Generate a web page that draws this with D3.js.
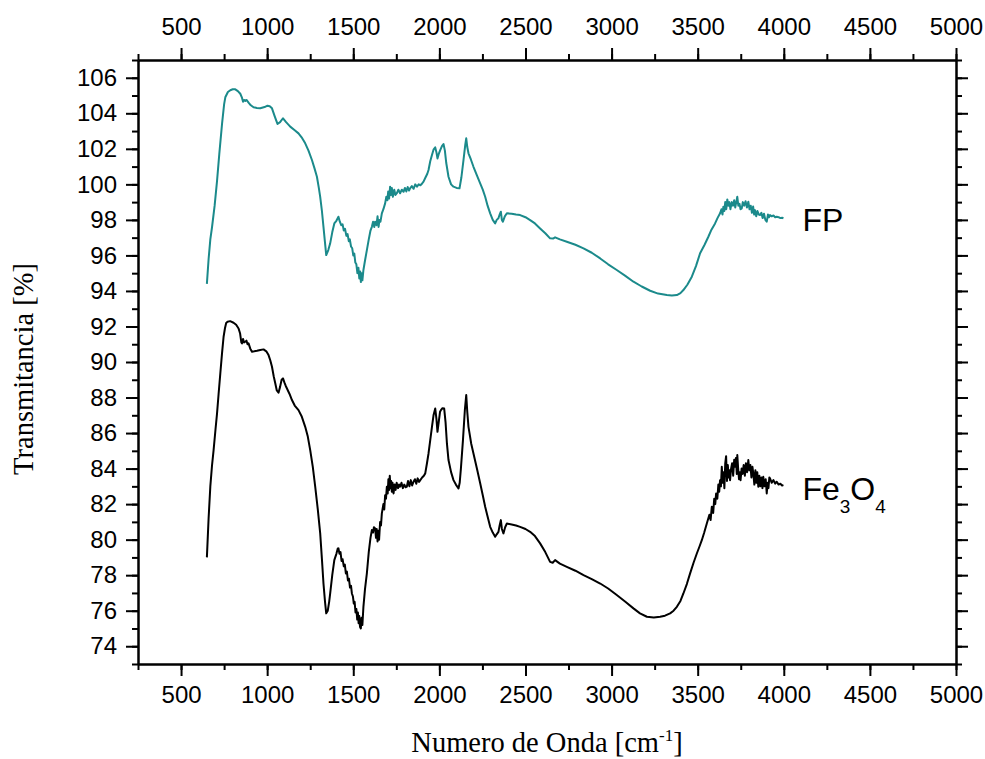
<!DOCTYPE html>
<html lang="es">
<head>
<meta charset="UTF-8">
<title>FTIR FP / Fe3O4</title>
<script src="https://d3js.org/d3.v7.min.js"></script>
<style>
  body { margin: 0; background: #fff; }
  .axis path, .axis line { stroke: #000; stroke-width: 2; }
  .axis text { font-family: "Liberation Sans", Arial, sans-serif; font-size: 24px; fill: #000; }
  .title { font-family: "Liberation Serif", "Times New Roman", serif; font-size: 28.5px; fill: #000; }
  .tag { font-family: "Liberation Sans", Arial, sans-serif; font-size: 32px; fill: #000; }
</style>
</head>
<body>
<div id="chart"></div>
<script>
// tick labels
var xTicks = [500, 1000, 1500, 2000, 2500, 3000, 3500, 4000, 4500, 5000];
var yTicks = [74, 76, 78, 80, 82, 84, 86, 88, 90, 92, 94, 96, 98, 100, 102, 104, 106];

// series: [wavenumber, transmittance]
var fpPoints = [
  [650,94.4],[660,95.8],[670,96.9],[680,97.6],[695,98.8],[709,100.2],[722,101.7],[738,103.4],[750,104.5],[757,104.9],
  [772,105.2],[786,105.3],[800,105.35],[815,105.35],[830,105.25],[844,105.1],[853,104.9],[860,104.65],[866,104.75],[873,104.7],
  [880,104.75],[892,104.6],[905,104.45],[921,104.34],[940,104.3],[960,104.28],[985,104.35],[1002,104.43],[1015,104.4],[1028,104.28],
  [1045,103.8],[1060,103.4],[1075,103.5],[1092,103.72],[1110,103.5],[1134,103.25],[1160,103.05],[1182,102.87],[1200,102.65],[1221,102.31],
  [1240,101.9],[1260,101.37],[1275,100.9],[1289,100.43],[1300,99.8],[1308,99.3],[1318,98.5],[1327,97.61],[1335,96.8],[1343,96.02],
  [1355,96.3],[1366,96.68],[1378,97.3],[1390,97.8],[1402,97.95],[1414,98.18],[1422,97.9],[1430,97.7],[1438,97.75],[1445,97.4],
  [1452,97.5],[1460,97.1],[1467,97.2],[1474,96.8],[1480,96.9],[1487,96.5],[1494,96.4],[1500,96.0],[1506,96.1],[1512,95.6],
  [1518,95.5],[1524,95.0],[1530,95.3],[1535,94.7],[1540,95.1],[1544,94.5],[1549,95.0],[1553,94.6],[1559,95.18],[1568,95.7],
  [1579,96.3],[1590,96.9],[1600,97.4],[1608,97.61],[1615,97.9],[1622,97.6],[1627,97.9],[1635,97.7],[1641,98.2],[1647,97.6],
  [1652,98.0],[1658,97.9],[1666,98.37],[1675,98.6],[1685,98.93],[1692,99.3],[1698,99.1],[1703,99.6],[1708,99.2],[1714,99.87],
  [1719,99.4],[1724,99.8],[1730,99.3],[1738,99.7],[1745,99.4],[1753,99.5],[1762,99.7],[1772,99.5],[1782,99.7],[1792,99.58],
  [1800,99.8],[1808,99.6],[1816,99.85],[1824,99.65],[1830,99.78],[1840,99.9],[1850,99.75],[1860,100.0],[1870,99.87],[1880,100.0],
  [1890,99.95],[1900,100.05],[1908,100.15],[1920,100.4],[1930,100.6],[1937,100.81],[1947,101.3],[1957,101.65],[1966,101.95],[1976,102.08],
  [1983,101.8],[1989,101.46],[1996,101.7],[2005,101.93],[2015,102.15],[2024,102.27],[2032,101.9],[2040,101.2],[2053,100.43],[2068,100.0],
  [2082,99.87],[2100,99.8],[2117,99.78],[2128,100.4],[2140,101.37],[2150,102.2],[2156,102.59],[2162,102.1],[2169,101.75],[2183,101.4],
  [2198,100.99],[2218,100.5],[2237,100.06],[2252,99.7],[2266,99.3],[2280,98.8],[2295,98.37],[2310,98.0],[2324,97.8],[2333,98.0],
  [2343,98.09],[2350,98.3],[2357,98.46],[2363,98.0],[2369,97.9],[2380,98.2],[2392,98.37],[2420,98.35],[2445,98.3],[2469,98.27],
  [2500,98.15],[2527,97.99],[2555,97.8],[2585,97.52],[2615,97.25],[2643,96.96],[2660,96.95],[2672,97.02],[2700,96.9],[2740,96.77],
  [2790,96.6],[2837,96.4],[2885,96.15],[2934,95.83],[2980,95.5],[3030,95.18],[3080,94.85],[3127,94.52],[3175,94.25],[3224,94.01],
  [3270,93.85],[3321,93.77],[3350,93.74],[3379,93.77],[3400,93.88],[3417,94.05],[3440,94.35],[3466,94.8],[3490,95.4],[3514,96.12],
  [3540,96.6],[3562,97.05],[3580,97.45],[3601,97.8],[3615,98.1],[3630,98.37],[3638,98.6],[3644,98.3],[3649,98.74],[3655,98.5],
  [3660,99.0],[3666,98.6],[3672,99.15],[3678,98.8],[3684,99.0],[3690,98.6],[3698,99.0],[3705,98.8],[3712,99.1],[3718,98.7],
  [3724,99.0],[3730,99.3],[3736,98.8],[3743,98.9],[3749,98.6],[3756,98.65],[3762,99.0],[3770,98.8],[3778,99.05],[3786,98.7],
  [3794,99.02],[3801,98.6],[3808,98.8],[3815,98.4],[3822,98.75],[3828,98.3],[3833,98.55],[3840,98.2],[3847,98.5],[3855,98.3],
  [3862,98.27],[3870,98.4],[3877,98.1],[3885,98.35],[3893,98.0],[3901,97.9],[3908,98.3],[3914,98.15],[3920,98.27],[3930,98.2],
  [3940,98.25],[3950,98.15],[3959,98.18],[3970,98.15],[3980,98.1],[3990,98.12],[3998,98.09]
];

var fePoints = [
  [650,79.0],[660,81.2],[670,83.0],[680,84.2],[689,85.04],[700,86.2],[709,87.11],[718,88.2],[728,89.36],[738,90.5],
  [747,91.42],[755,91.9],[762,92.2],[770,92.27],[785,92.3],[805,92.21],[820,92.1],[834,91.89],[843,91.6],[850,91.1],
  [854,91.05],[860,91.3],[866,91.1],[873,91.14],[880,91.2],[886,91.0],[892,91.05],[902,90.75],[912,90.58],[925,90.6],
  [941,90.63],[960,90.68],[979,90.71],[995,90.6],[1008,90.39],[1018,90.1],[1028,89.73],[1038,89.2],[1047,88.8],[1056,88.4],
  [1066,88.27],[1075,88.6],[1084,89.0],[1092,89.08],[1100,88.85],[1108,88.65],[1115,88.51],[1130,88.2],[1144,87.86],[1160,87.55],
  [1182,87.29],[1200,86.95],[1221,86.35],[1236,85.8],[1250,85.04],[1265,84.1],[1279,82.98],[1294,81.7],[1308,80.35],[1318,78.9],
  [1327,77.53],[1336,76.5],[1343,75.85],[1352,76.0],[1360,76.5],[1366,76.97],[1378,78.0],[1390,78.85],[1402,79.2],[1410,79.5],
  [1414,79.51],[1420,79.2],[1426,79.3],[1432,78.8],[1438,78.9],[1445,78.5],[1451,78.6],[1457,78.1],[1463,78.2],[1469,77.7],
  [1475,77.8],[1481,77.3],[1487,77.4],[1492,76.97],[1498,76.8],[1503,76.4],[1508,76.5],[1513,75.9],[1518,76.1],[1523,75.5],
  [1527,75.9],[1531,75.3],[1535,75.7],[1539,75.1],[1544,75.0],[1548,75.6],[1553,75.2],[1559,76.22],[1568,77.2],[1579,78.1],
  [1590,79.3],[1600,80.1],[1608,80.54],[1615,80.4],[1620,80.7],[1627,80.63],[1632,80.1],[1636,80.6],[1641,79.9],[1645,80.5],
  [1650,80.0],[1656,81.0],[1661,80.8],[1666,81.48],[1675,82.0],[1680,81.7],[1685,82.5],[1690,82.3],[1695,82.98],[1700,82.6],
  [1704,83.4],[1708,82.8],[1712,83.6],[1716,82.9],[1720,83.3],[1724,82.7],[1728,83.2],[1734,82.6],[1740,83.1],[1746,82.8],
  [1752,83.2],[1760,82.9],[1766,83.1],[1772,82.98],[1780,83.2],[1788,82.9],[1796,83.1],[1804,82.95],[1811,82.98],[1818,83.3],
  [1826,83.0],[1834,83.35],[1842,83.05],[1850,83.26],[1858,83.4],[1866,83.15],[1874,83.45],[1882,83.25],[1889,83.35],[1900,83.5],
  [1910,83.6],[1918,83.73],[1928,84.3],[1937,84.85],[1947,85.6],[1957,86.35],[1966,87.0],[1976,87.38],[1983,86.8],[1989,86.07],
  [1996,86.6],[2004,87.2],[2009,87.29],[2018,87.4],[2028,87.38],[2036,86.6],[2044,85.4],[2053,84.48],[2068,83.8],[2082,83.35],
  [2096,83.1],[2111,82.88],[2118,83.2],[2125,84.0],[2137,85.6],[2148,87.3],[2156,88.14],[2162,87.2],[2169,86.35],[2175,86.0],
  [2185,85.4],[2198,84.85],[2218,84.0],[2237,83.17],[2252,82.5],[2266,81.85],[2280,81.3],[2295,80.72],[2310,80.4],[2324,80.16],
  [2333,80.3],[2343,80.44],[2350,80.8],[2357,81.1],[2363,80.6],[2372,80.35],[2382,80.7],[2392,80.91],[2420,80.85],[2445,80.8],
  [2469,80.72],[2500,80.6],[2527,80.44],[2555,80.2],[2585,79.79],[2615,79.3],[2643,78.75],[2658,78.7],[2672,78.85],[2700,78.65],
  [2740,78.47],[2790,78.25],[2837,78.0],[2885,77.78],[2934,77.53],[2980,77.25],[3030,76.88],[3080,76.5],[3127,76.13],[3165,75.85],
  [3205,75.66],[3245,75.62],[3282,75.66],[3310,75.72],[3340,75.85],[3360,76.0],[3379,76.22],[3400,76.55],[3417,76.97],[3437,77.5],
  [3456,78.1],[3476,78.7],[3495,79.22],[3510,79.6],[3524,79.97],[3538,80.4],[3553,80.91],[3568,81.4],[3575,81.1],[3582,81.85],
  [3590,81.5],[3596,82.3],[3602,82.0],[3607,82.6],[3614,82.3],[3620,83.1],[3625,82.7],[3630,83.35],[3635,83.0],[3640,84.1],
  [3645,83.2],[3650,83.8],[3655,82.9],[3660,84.3],[3665,84.7],[3670,83.3],[3675,84.2],[3680,83.5],[3684,83.9],[3688,83.35],
  [3694,84.0],[3700,84.3],[3706,83.6],[3712,84.5],[3718,84.1],[3722,84.6],[3727,83.7],[3730,84.76],[3735,84.0],[3740,83.4],
  [3745,83.8],[3749,83.35],[3755,84.0],[3761,83.7],[3767,84.2],[3774,83.6],[3780,84.3],[3787,83.8],[3794,84.48],[3800,83.9],
  [3806,84.2],[3812,83.5],[3818,84.1],[3823,83.73],[3829,83.1],[3835,83.9],[3841,83.2],[3846,83.8],[3852,82.98],[3858,83.6],
  [3864,83.0],[3870,83.5],[3876,82.9],[3881,83.54],[3888,83.0],[3895,83.4],[3901,82.6],[3906,83.2],[3911,82.9],[3916,83.5],
  [3920,83.45],[3930,83.2],[3940,83.35],[3950,83.15],[3959,83.26],[3970,83.1],[3980,83.15],[3990,83.05],[3998,83.07]
];

var width = 985, height = 759;
var margin = {top: 60, right: 29, bottom: 95, left: 138};

var svg = d3.select("#chart").append("svg")
  .attr("width", width)
  .attr("height", height);

var x = d3.scaleLinear().domain([250, 5000]).range([margin.left, width - margin.right]);
var y = d3.scaleLinear().domain([73, 107]).range([height - margin.bottom, margin.top]);

var xMinor = d3.range(250, 5001, 250);
var yMinor = d3.range(73, 108, 1);
var fmt = d3.format("d");

// minor ticks first, then the major axes with labels
function addAxis(axis, tx, ty) {
  return svg.append("g").attr("class", "axis")
    .attr("transform", "translate(" + tx + "," + ty + ")")
    .call(axis);
}
var bottom = height - margin.bottom, right = width - margin.right;

addAxis(d3.axisBottom(x).tickValues(xMinor).tickSize(6).tickSizeOuter(0).tickFormat(""), 0, bottom);
addAxis(d3.axisTop(x).tickValues(xMinor).tickSize(6).tickSizeOuter(0).tickFormat(""), 0, margin.top);
addAxis(d3.axisLeft(y).tickValues(yMinor).tickSize(6).tickSizeOuter(0).tickFormat(""), margin.left, 0);
addAxis(d3.axisRight(y).tickValues(yMinor).tickSize(6).tickSizeOuter(0).tickFormat(""), right, 0);

addAxis(d3.axisBottom(x).tickValues(xTicks).tickSize(12).tickSizeOuter(0).tickPadding(10).tickFormat(fmt), 0, bottom);
addAxis(d3.axisTop(x).tickValues(xTicks).tickSize(12).tickSizeOuter(0).tickPadding(13).tickFormat(fmt), 0, margin.top);
addAxis(d3.axisLeft(y).tickValues(yTicks).tickSize(12).tickSizeOuter(0).tickPadding(9).tickFormat(fmt), margin.left, 0);
addAxis(d3.axisRight(y).tickValues(yTicks).tickSize(12).tickSizeOuter(0).tickFormat(""), right, 0);

// curves
var line = d3.line()
  .x(function(d) { return x(d[0]); })
  .y(function(d) { return y(d[1]); });

svg.append("path")
  .datum(fpPoints)
  .attr("d", line)
  .attr("fill", "none")
  .attr("stroke", "#1b8a8b")
  .attr("stroke-width", 2)
  .attr("stroke-linejoin", "round");

svg.append("path")
  .datum(fePoints)
  .attr("d", line)
  .attr("fill", "none")
  .attr("stroke", "#000")
  .attr("stroke-width", 2)
  .attr("stroke-linejoin", "round");

// series labels beside the curve ends
var lastFp = fpPoints[fpPoints.length - 1], lastFe = fePoints[fePoints.length - 1];
svg.append("text").attr("class", "tag")
  .attr("x", x(lastFp[0]) + 19).attr("y", y(lastFp[1]) + 13)
  .text("FP");

var fe = svg.append("text").attr("class", "tag")
  .attr("x", x(lastFe[0]) + 19).attr("y", y(lastFe[1]) + 15);
fe.append("tspan").text("Fe");
fe.append("tspan").attr("font-size", "19px").attr("dy", 13).text("3");
fe.append("tspan").attr("dy", -13).text("O");
fe.append("tspan").attr("font-size", "19px").attr("dy", 13).text("4");

// axis titles
var xt = svg.append("text").attr("class", "title")
  .attr("text-anchor", "middle")
  .attr("x", (margin.left + right) / 2)
  .attr("y", 752);
xt.append("tspan").text("Numero de Onda [cm");
xt.append("tspan").attr("font-size", "17px").attr("dy", -11).text("-1");
xt.append("tspan").attr("dy", 11).text("]");

svg.append("text").attr("class", "title")
  .attr("text-anchor", "middle")
  .attr("font-size", "29.5px")
  .attr("transform", "translate(33,369) rotate(-90)")
  .text("Transmitancia [%]");
</script>
</body>
</html>
